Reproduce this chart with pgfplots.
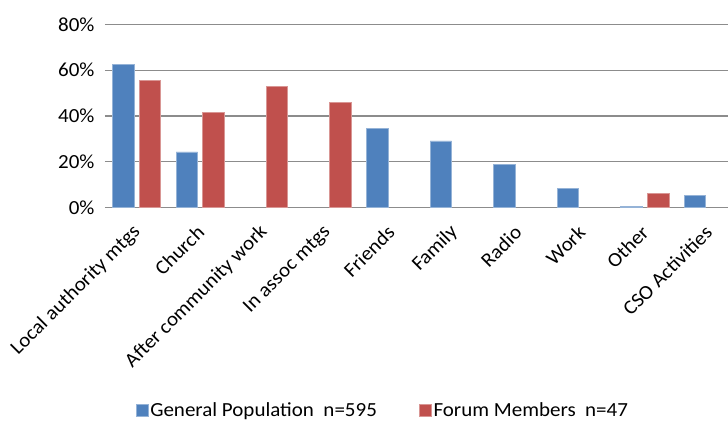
\documentclass[border=0pt]{standalone}
\usepackage{pgfplots}
\pgfplotsset{compat=1.18}
\usepackage{fontspec}
\setmainfont{Carlito}[FakeStretch=1.05]
\definecolor{xblue}{HTML}{4F81BD}
\definecolor{xred}{HTML}{C0504D}
\definecolor{xgrid}{HTML}{8C8C8C}
\begin{document}
\begin{tikzpicture}
\useasboundingbox (-105bp,-213.3bp) rectangle (623bp,207.7bp);
\clip (-105bp,-213.3bp) rectangle (623bp,207.7bp);
\begin{axis}[
  scale only axis,
  width=635bp, height=183.4bp,
  xmin=-0.5, xmax=9.5,
  ymin=0, ymax=80,
  ybar=5.1bp, bar width=21.5bp,
  axis lines=left,
  axis line style={draw=none,-},
  major tick length=0pt,
  ymajorgrids,
  grid style={xgrid, line width=1.1bp},
  ytick={0,20,40,60,80},
  yticklabels={0\%,20\%,40\%,60\%,80\%},
  xtick={0,...,9},
  xticklabels={Local authority mtgs,Church,After community work,In assoc mtgs,Friends,Family,Radio,Work,Other,CSO Activities},
  tick label style={font=\fontsize{20bp}{24bp}\selectfont, black},
  yticklabel style={xshift=-7bp},
  xticklabel style={yshift=-20bp, xshift=2bp, rotate=45, anchor=east, inner sep=2bp},
  legend columns=2,
  legend style={draw=none, fill=none, inner sep=0pt, font=\fontsize{20bp}{24bp}\selectfont,
    at={(axis description cs:0.048,-1.105)}, anchor=west,
    nodes={inner sep=2bp},
    /tikz/every even column/.append style={column sep=40bp}},
  legend image code/.code={\fill[#1] (0bp,-6bp) rectangle (12bp,6bp);},
]
\addplot[fill=xblue, draw=xblue!60!white, line width=0.6bp] coordinates {
 (0,62.5) (1,24.3) (4,34.7) (5,29.1) (6,18.9) (7,8.4) (8,0.7) (9,5.5)};
\addlegendentry{General Population~~n=595}
\addplot[fill=xred, draw=xred!60!white, line width=0.6bp] coordinates {
 (0,55.7) (1,41.7) (2,52.9) (3,45.8) (8,6.3)};
\addlegendentry{Forum Members~~n=47}
\end{axis}
\end{tikzpicture}
\end{document}
